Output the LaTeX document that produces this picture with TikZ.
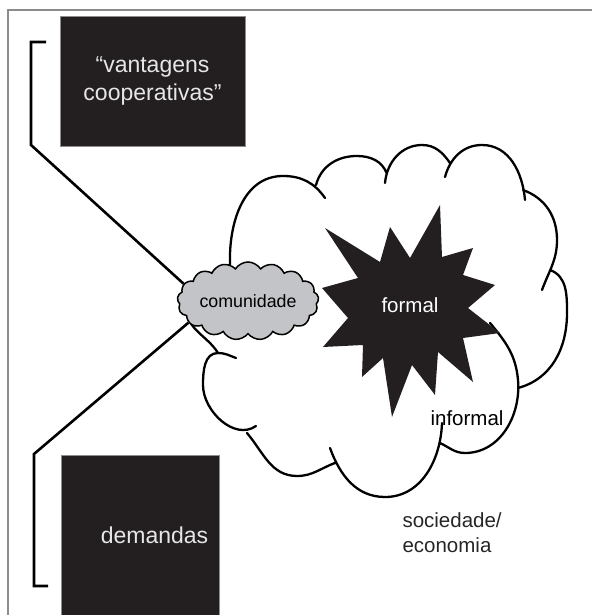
\documentclass[tikz,border=0pt]{standalone}
\usepackage{fontspec}
\setmainfont{Liberation Sans}
\usetikzlibrary{shapes.symbols}
\definecolor{boxfill}{HTML}{231F20}
\definecolor{boxtext}{HTML}{E6E6E6}
\definecolor{comfill}{HTML}{C3C4C8}
\definecolor{framegray}{HTML}{8C8C8C}
\tikzset{
  darkbox/.style={draw=framegray, line width=0.8pt, fill=boxfill, text=boxtext, inner sep=0pt},
  boxlabel/.style={text=boxtext, font=\fontsize{23}{27.6}\selectfont},
  cloudline/.style={line width=2.3pt, line cap=round},
  bracket/.style={line width=2.6pt},
  plainlabel/.style={font=\fontsize{20.5}{24.6}\selectfont},
}

\begin{document}
\begin{tikzpicture}[x=1pt,y=1pt]
	\useasboundingbox (0,0) rectangle (592,615);
	% frame
	\draw[framegray, line width=1.5pt] (8,0) -- (8,605) -- (592,605);
	% sociedade / economia cloud
	\draw[cloudline]
		(230,350) to[out=92,in=180] (283,439) to[out=0,in=125] (325,417)
		(316,430) to[out=75,in=180] (357,459) to[out=0,in=110] (387,441)
		(385,432) to[out=85,in=180] (422,470) to[out=0,in=125] (450,452)
		(445,438) to[out=75,in=180] (482,470) to[out=0,in=95] (525,415)
		(523,425) to[out=-20,in=90] (557,375) to[out=-90,in=70] (542,325)
		(550,345) to[out=-20,in=90] (567,302) to[out=-90,in=15] (518,227)
		(490,292) to[out=-50,in=95] (518,235) to[out=-85,in=0] (465,162) to[out=180,in=-25] (440,172)
		(442,192) to[out=-92,in=0] (385,118) to[out=180,in=-70] (330,167)
		(335,152) to[out=-160,in=0] (297,139) to[out=180,in=-50] (247,182)
		(256,189) to[out=215,in=-90] (203,230) to[out=90,in=180] (218,262) to[out=0,in=160] (236,257)
		(218,262) to[out=122,in=-90] (187,306) to[out=90,in=200] (230,350);
	% formal
	\fill[boxfill] (325,387) -- (380,353) -- (390,388) -- (410,357) -- (440,410) -- (442,358)
		-- (473,367) -- (463,340) -- (495,330) -- (468,307) -- (500,282) -- (463,277)
		-- (473,233) -- (438,263) -- (435,220) -- (412,250) -- (392,198) -- (383,257)
		-- (362,238) -- (363,270) -- (323,268) -- (348,297) -- (322,327) -- (358,337) -- cycle;
	\node[plainlabel, text=white] (formal) at (410,310) {formal};
	\node[plainlabel] (informal) at (467,197) {informal};
	\node[plainlabel, text=black!85, align=left, anchor=west] (sociedade) at (399,82.5) {sociedade/\\economia};
	% comunidade
	\node[cloud, cloud puffs=17, cloud puff arc=115, aspect=2.1, draw, fill=comfill, line width=1.5pt,
		minimum width=128pt, minimum height=66pt, inner sep=0pt,
		font=\fontsize{17.8}{20}\selectfont] (com) at (248,314) {comunidade};
	% brackets
	\coordinate (t1) at (46,573);
	\coordinate (t2) at (31,573);
	\coordinate (t3) at (31,470);
	\coordinate (b1) at (48,29);
	\coordinate (b2) at (34,29);
	\coordinate (b3) at (34,161);
	\draw[bracket] (t1) -- (t2) -- (t3) -- (com.165);
	\draw[bracket] (b1) -- (b2) -- (b3) -- (com.200);
	% boxes
	\node[darkbox, boxlabel, minimum width=185pt, minimum height=130pt, align=center] (vantagens) at (152.5,534) {“vantagens\\cooperativas”};
	\node[darkbox, minimum width=158pt, minimum height=180pt, anchor=north west] (demandas) at (61,160) {};
	\node[boxlabel, anchor=east, xshift=-8pt] (demtext) at (demandas.east |- 0,80) {demandas};
\end{tikzpicture}
\end{document}
